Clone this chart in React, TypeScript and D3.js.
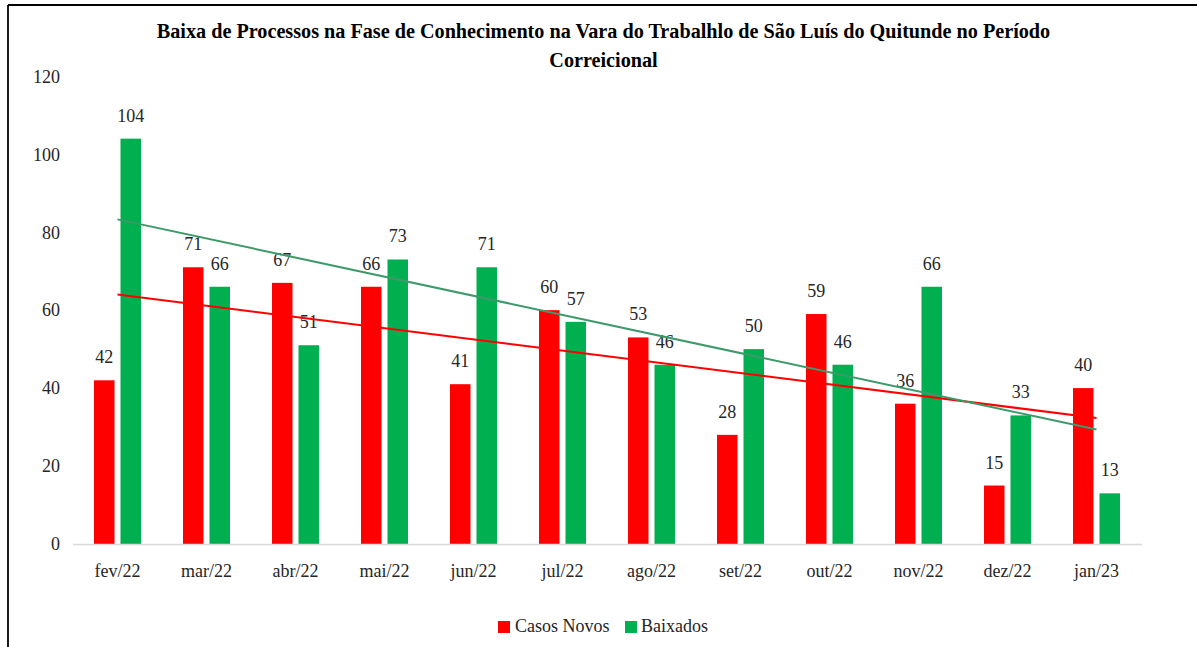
import React from "react";
import * as d3 from "d3";

const categories = ["fev/22","mar/22","abr/22","mai/22","jun/22","jul/22","ago/22","set/22","out/22","nov/22","dez/22","jan/23"];
const casosNovos = [42,71,67,66,41,60,53,28,59,36,15,40];
const baixados = [104,66,51,73,71,57,46,50,46,66,33,13];
const seriesNames = ["Casos Novos","Baixados"];
const seriesColors = ["#FF0000","#00B050"];
const trendColors = ["#FF0000","#3C9A6A"];
const yTicks = [0,20,40,60,80,100,120];
const titleLines = [
  "Baixa de Processos na Fase de Conhecimento na Vara do Trabalhlo de São Luís do Quitunde no Período",
  "Correicional",
];

function linreg(values: number[]) {
  const n = values.length;
  const xs = values.map((_, i) => i + 1);
  const mx = d3.mean(xs) as number;
  const my = d3.mean(values) as number;
  let sxy = 0, sxx = 0;
  xs.forEach((x, i) => { sxy += (x - mx) * (values[i] - my); sxx += (x - mx) ** 2; });
  const b = sxy / sxx;
  const a = my - b * mx;
  return [a + b * 1, a + b * n];
}

export default function App() {
  const W = 1197, H = 647;
  const font = "'Liberation Serif', 'Times New Roman', serif";
  const x0 = d3.scaleBand<string>().domain(categories).range([73, 1141]).padding(0);
  const x1 = d3.scaleBand<string>().domain(seriesNames).range([0, 47]).paddingInner(0.226).paddingOuter(0);
  const y = d3.scaleLinear().domain([0, 120]).range([544, 76.3]);
  const data = [casosNovos, baixados];
  const groupOff = (c: string) => (x0(c) as number) + x0.bandwidth() / 2 - 23.5;
  const lineGen = d3.line<[number, number]>().x(d => d[0]).y(d => d[1]);
  const firstC = (x0(categories[0]) as number) + x0.bandwidth() / 2;
  const lastC = (x0(categories[categories.length - 1]) as number) + x0.bandwidth() / 2;
  const textColor = "#262626";

  return (
    <svg width={W} height={H} style={{ position: "absolute", left: 0, top: 0, background: "#fff" }} fontFamily={font}>
      <rect x={0} y={0} width={W} height={H} fill="#fff" />
      <line x1={8} y1={5} x2={W + 5} y2={5} stroke="#000" strokeWidth={1.8} />
      <line x1={8} y1={5} x2={8} y2={H + 5} stroke="#000" strokeWidth={1.8} />
      {titleLines.map((t, i) => (
        <text key={i} x={603.5} y={38 + i * 29} textAnchor="middle" fontWeight="bold" fontSize={20.2} fill="#000">{t}</text>
      ))}
      {yTicks.map(t => (
        <text key={t} x={60} y={y(t)} dy="0.35em" textAnchor="end" fontSize={18} fill={textColor}>{t}</text>
      ))}
      {categories.map((c, i) => (
        <g key={c}>
          {data.map((s, si) => {
            const bx = groupOff(c) + (x1(seriesNames[si]) as number);
            const v = s[i];
            return (
              <g key={si}>
                <rect x={bx} y={y(v)} width={x1.bandwidth()} height={y(0) - y(v)} fill={seriesColors[si]} />
                <text x={bx + x1.bandwidth() / 2} y={y(v) - 17} textAnchor="middle" fontSize={18} fill={textColor}>{v}</text>
              </g>
            );
          })}
          <text x={(x0(c) as number) + x0.bandwidth() / 2} y={577} textAnchor="middle" fontSize={18} fill={textColor}>{c}</text>
        </g>
      ))}
      <line x1={73} x2={1142} y1={y(0) + 0.5} y2={y(0) + 0.5} stroke="#D9D9D9" strokeWidth={1.5} />
      {data.map((s, si) => {
        const [a, b] = linreg(s);
        return (
          <path key={si} d={lineGen([[firstC, y(a)], [lastC, y(b)]]) as string} stroke={trendColors[si]} strokeWidth={2} fill="none" />
        );
      })}
      <g>
        <rect x={498} y={621} width={12} height={12} fill={seriesColors[0]} />
        <text x={515} y={632} fontSize={18} fill={textColor}>{seriesNames[0]}</text>
        <rect x={625} y={621} width={12} height={12} fill={seriesColors[1]} />
        <text x={641} y={632} fontSize={18} fill={textColor}>{seriesNames[1]}</text>
      </g>
    </svg>
  );
}
